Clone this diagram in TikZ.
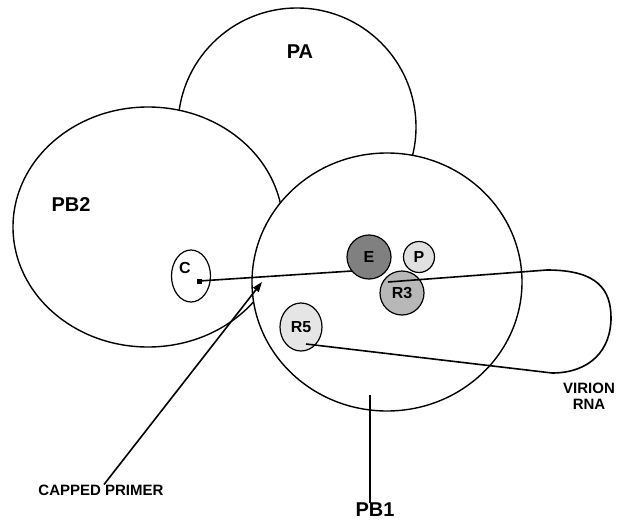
\documentclass[tikz,border=0pt]{standalone}
\usepackage{fontspec}
\setmainfont{Liberation Sans}
\usetikzlibrary{shapes.geometric,arrows.meta}
\begin{document}
\begin{tikzpicture}[x=1pt,y=-1pt, line join=round,
  big/.style={draw, line width=1.4pt, fill=white, inner sep=0pt},
  lbl/.style={font=\bfseries\fontsize{20}{24}\selectfont, inner sep=0pt},
  small/.style={font=\bfseries\fontsize{15}{16}\selectfont, inner sep=0pt, align=center},
  sub/.style={draw, line width=1.2pt, inner sep=0pt, font=\bfseries\fontsize{16}{18}\selectfont},
  wire/.style={line width=1.6pt}
]
\useasboundingbox (0,0) rectangle (619,522);
% large subunits
\node[big, circle, minimum size=238pt] (pa) at (297,127) {};
\node[big, ellipse, minimum width=270pt, minimum height=240pt] (pb2) at (148,227) {};
\node[big, ellipse, minimum width=270pt, minimum height=258pt] (pb1) at (387,282) {};
% labels
\node[lbl] (lpa) at (300,52) {PA};
\node[lbl] (lpb2) at (71,205) {PB2};
\node[lbl] (lpb1) at (375,510) {PB1};
\node[small] (lcap) at (101,490) {CAPPED PRIMER};
\node[small] (lvir) at (589,396) {VIRION\\RNA};
% cap-binding site
\node[sub, ellipse, minimum width=39pt, minimum height=52pt, fill=white] (c) at (191,276) {};
\node[sub, draw=none] (lc) at (185,268) {C};
\node[fill=black, minimum size=5pt, inner sep=0pt] (sq) at (199,281) {};
% primer to E
\coordinate (ein) at (352,271);
\draw[wire] (sq.center) -- (ein);
% sites
\node[sub, circle, minimum size=44pt, fill=black!50] (e) at (369,257) {E};
\node[sub, circle, minimum size=31pt, fill=black!12] (p) at (419,257) {P};
\node[sub, circle, minimum size=44pt, fill=black!28] (r3) at (402,293) {R3};
\node[sub, ellipse, minimum width=42pt, minimum height=48pt, fill=black!10] (r5) at (301,327) {R5};
% virion RNA loop
\coordinate (r3in) at (388,282);
\coordinate (r5in) at (306,344);
\coordinate (ltop) at (547,270);
\coordinate (lbot) at (552,373);
\draw[wire] (r3in) -- (ltop) .. controls (598,270) and (611,290) .. (611,318)
  .. controls (611,350) and (590,373) .. (lbot) -- (r5in);
% capped primer arrow
\coordinate (tip) at (262,282);
\draw[wire, -{Triangle[length=10pt,width=7pt]}] ([xshift=3pt]lcap.north) -- (tip);
% PB1 pointer
\coordinate (pb1top) at (370,395);
\draw[wire] (pb1top) -- (pb1top |- lpb1.north);
\end{tikzpicture}
\end{document}
